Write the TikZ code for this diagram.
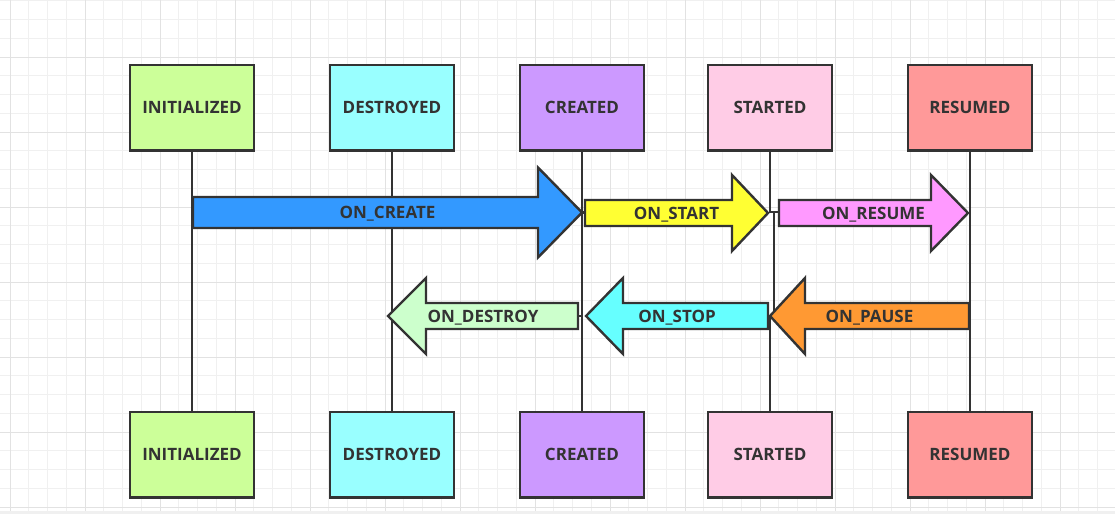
\documentclass[tikz,border=0pt]{standalone}
\usepackage{fontspec}
\setmainfont{Open Sans}
\definecolor{ink}{HTML}{333333}
\definecolor{gminor}{HTML}{F0F0F0}
\definecolor{gmajor}{HTML}{E2E2E2}
\definecolor{cInit}{HTML}{CCFF99}
\definecolor{cDest}{HTML}{99FFFF}
\definecolor{cCrea}{HTML}{CC99FF}
\definecolor{cStar}{HTML}{FFCCE6}
\definecolor{cResu}{HTML}{FF9999}
\definecolor{aCrea}{HTML}{3399FF}
\definecolor{aStar}{HTML}{FFFF33}
\definecolor{aResu}{HTML}{FF99FF}
\definecolor{aDest}{HTML}{CCFFCC}
\definecolor{aStop}{HTML}{66FFFF}
\definecolor{aPaus}{HTML}{FF9933}
\tikzset{
  statebox/.style={draw=ink, line width=2.4pt, minimum width=123.6pt, minimum height=85.6pt,
    inner sep=0pt, font=\fontsize{17}{20}\selectfont\bfseries, text=ink,
    text height=12.2pt, text depth=0pt},
  life/.style={draw=ink, line width=2.2pt},
  arr/.style={draw=ink, line width=2.4pt, line join=miter},
  lbl/.style={font=\fontsize{17}{20}\selectfont\bfseries, text=ink, inner sep=0pt,
    text height=12.2pt, text depth=0pt},
  gmin/.style={draw=gminor, line width=1pt},
  gmaj/.style={draw=gmajor, line width=1pt}
}
% #1 label name, #2 tail x, #3 tip x, #4 y, #5 shaft half, #6 head half, #7 head length (signed), #8 colour, #9 text
\newcommand\bigarr[9]{%
  \draw[arr, fill=#8] (#2,{#4-#5}) -- ({#3-(#7)},{#4-#5}) -- ({#3-(#7)},{#4-#6}) -- (#3,#4)
    -- ({#3-(#7)},{#4+#6}) -- ({#3-(#7)},{#4+#5}) -- (#2,{#4+#5}) -- cycle;
  \node[lbl] (#1) at ({(#2+#3)/2},#4) {#9};
}
\begin{document}
\begin{tikzpicture}[x=1pt, y=-1pt]
\useasboundingbox (0,0) rectangle (1115,514);
\fill[white] (0,0) rectangle (1115,514);
% grid
\foreach \i in {-1,...,59} \draw[gmin] ({10+\i*18.75},0) -- ({10+\i*18.75},511);
\foreach \i in {-3,...,24} \draw[gmin] (0,{57+\i*18.75}) -- (1115,{57+\i*18.75});
\foreach \i in {0,...,14} \draw[gmaj] ({10+\i*75},0) -- ({10+\i*75},511);
\foreach \i in {0,...,6} \draw[gmaj] (0,{57+\i*75}) -- (1115,{57+\i*75});
\fill[gminor] (0,511) rectangle (1115,514);
% state boxes
\node[statebox, fill=cInit] (i1) at (192,107.5) {INITIALIZED};
\node[statebox, fill=cDest] (d1) at (392,107.5) {DESTROYED};
\node[statebox, fill=cCrea] (c1) at (582,107.5) {CREATED};
\node[statebox, fill=cStar] (s1) at (770,107.5) {STARTED};
\node[statebox, fill=cResu] (r1) at (970,107.5) {RESUMED};
\node[statebox, fill=cInit] (i2) at (192,454.5) {INITIALIZED};
\node[statebox, fill=cDest] (d2) at (392,454.5) {DESTROYED};
\node[statebox, fill=cCrea] (c2) at (582,454.5) {CREATED};
\node[statebox, fill=cStar] (s2) at (770,454.5) {STARTED};
\node[statebox, fill=cResu] (r2) at (970,454.5) {RESUMED};
% lifelines
\coordinate (sj1) at (774,212);
\coordinate (sj2) at (774,316);
\draw[life] (i1) -- (i2);
\draw[life] (d1) -- (d2);
\draw[life] (c1) -- (c2);
\draw[life] (s1.south) |- (sj1) -- (sj2) -| (s2.north);
\draw[life] (r1) -- (r2);
% short links
\coordinate (k1) at (585,212.5);
\coordinate (k2) at (582,212.5);
\coordinate (k3) at (769,212);
\coordinate (k4) at (779,212);
\coordinate (k5) at (578,316);
\coordinate (k6) at (582,316);
\draw[life] (k1) -- (k2);
\draw[life] (k3) -- (k4);
\draw[life] (k5) -- (k6);
% arrows
\bigarr{lcreate}{193}{582}{212.5}{15.5}{45}{44}{aCrea}{ON\_CREATE}
\bigarr{lstart}{585}{768}{213}{13}{38}{36}{aStar}{ON\_START}
\bigarr{lresume}{779}{968}{213}{13}{38}{37}{aResu}{ON\_RESUME}
\bigarr{ldestroy}{578}{388}{316}{13}{38}{-38}{aDest}{ON\_DESTROY}
\bigarr{lstop}{768}{586}{316}{13}{38}{-37}{aStop}{ON\_STOP}
\bigarr{lpause}{969}{770}{316}{13}{38}{-35}{aPaus}{ON\_PAUSE}
\end{tikzpicture}
\end{document}
